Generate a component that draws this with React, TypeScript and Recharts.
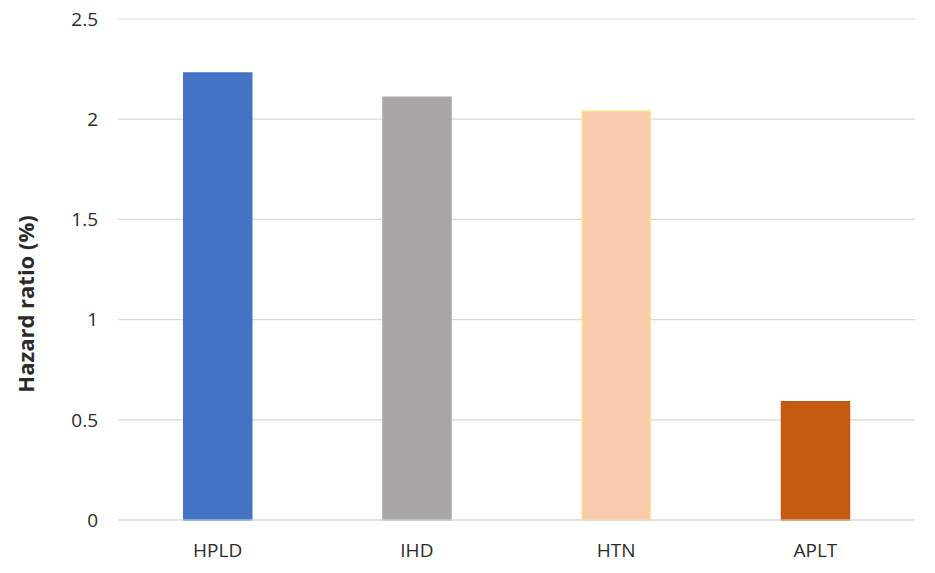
import React from 'react';
import { BarChart, Bar, XAxis, YAxis, CartesianGrid, Cell } from 'recharts';

const categories = ['HPLD', 'IHD', 'HTN', 'APLT'];
const hazardRatios = [2.23, 2.11, 2.04, 0.59];
const barColors = ['#4472C4', '#A9A7A6', '#F8CBAD', '#C55A11'];
const barBorders = ['#4472C4', '#A9A7A6', '#FFE08A', '#C55A11'];
const yTicks = [0, 0.5, 1, 1.5, 2, 2.5];

const chartData = categories.map((name, i) => ({ name, value: hazardRatios[i] }));

const font = '"Open Sans", "Noto Sans", sans-serif';

const App: React.FC = () => {
  // pull the chart up over the body's top margin so the top tick has room
  return (
    <div style={{ width: 919, height: 573, marginTop: -8, fontFamily: font }}>
      <BarChart
        width={919}
        height={573}
        data={chartData}
        margin={{ top: 19, right: 12, left: 0, bottom: 0 }}
        barCategoryGap="33%"
      >
        <CartesianGrid vertical={false} stroke="#d9d9d9" strokeWidth={1.2} />
        <XAxis
          dataKey="name"
          axisLine={{ stroke: '#d9d9d9' }}
          tickLine={false}
          height={53}
          tickMargin={18}
          tick={{ fill: '#2b2b2b', fontSize: 19, fontFamily: font }}
        />
        <YAxis
          domain={[0, 2.5]}
          ticks={yTicks}
          width={110}
          axisLine={false}
          tickLine={false}
          tickMargin={14}
          tick={{ fill: '#2b2b2b', fontSize: 19, fontFamily: font }}
          label={() => (
            <text
              x={20}
              y={304}
              transform="rotate(-90, 20, 304)"
              textAnchor="middle"
              dominantBaseline="middle"
              fill="#2b2b2b"
              fontSize={22}
              fontWeight="bold"
              fontFamily={font}
            >
              Hazard ratio (%)
            </text>
          )}
        />
        <Bar dataKey="value" isAnimationActive={false}>
          {chartData.map((d, i) => (
            <Cell key={d.name} fill={barColors[i]} stroke={barBorders[i]} strokeWidth={1.5} />
          ))}
        </Bar>
      </BarChart>
    </div>
  );
};

export default App;
